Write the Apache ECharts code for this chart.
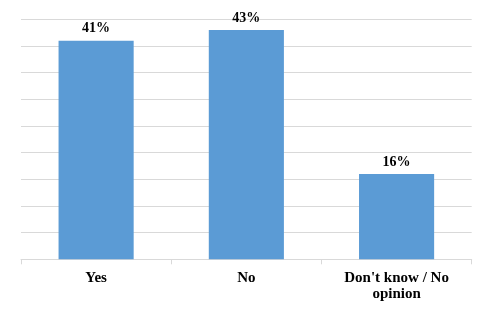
<!DOCTYPE html>
<html>
<head>
<meta charset="utf-8">
<script src="https://cdn.jsdelivr.net/npm/echarts@6/dist/echarts.min.js"></script>
<style>
html,body{margin:0;padding:0;background:#fff;}
#chart{width:496px;height:324px;}
</style>
</head>
<body>
<div id="chart"></div>
<script>
const categories = ["Yes", "No", "Don't know / No\nopinion"];
const values = [41, 43, 16];

const chart = echarts.init(document.getElementById('chart'), null, {renderer: 'canvas'});
const fontFamily = '"Liberation Serif", "DejaVu Serif", serif';
chart.setOption({
  animation: false,
  grid: {left: 21, right: 24.3, top: 19.3, bottom: 64.7, containLabel: false},
  xAxis: {
    type: 'category',
    data: categories,
    boundaryGap: true,
    axisLine: {show: true, lineStyle: {color: '#d9d9d9', width: 1}},
    axisTick: {show: true, length: 5, lineStyle: {color: '#d9d9d9'}},
    axisLabel: {
      margin: 11,
      color: '#000',
      fontFamily: fontFamily,
      fontWeight: 'bold',
      fontSize: 15,
      lineHeight: 16
    },
    splitLine: {show: false}
  },
  yAxis: {
    type: 'value',
    min: 0,
    max: 45,
    interval: 5,
    axisLine: {show: false},
    axisTick: {show: false},
    axisLabel: {show: false},
    splitLine: {show: true, lineStyle: {color: '#d9d9d9', width: 1}}
  },
  series: [{
    type: 'bar',
    data: values,
    barWidth: '50%',
    itemStyle: {color: '#5b9bd5'},
    label: {
      show: true,
      position: 'top',
      distance: 5,
      formatter: '{c}%',
      color: '#000',
      fontFamily: fontFamily,
      fontWeight: 'bold',
      fontSize: 14
    }
  }]
});
</script>
</body>
</html>
